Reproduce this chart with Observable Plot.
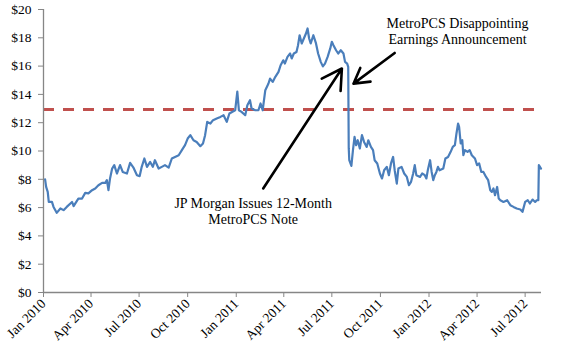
<!DOCTYPE html>
<html>
<head>
<meta charset="utf-8">
<script src="https://cdn.jsdelivr.net/npm/d3@7"></script>
<script src="https://cdn.jsdelivr.net/npm/@observablehq/plot@0.6"></script>
<style>
  html, body { margin: 0; padding: 0; background: #fff; }
  svg text { font-family: 'Liberation Serif', 'DejaVu Serif', serif; }
</style>
</head>
<body>
<div id="chart"></div>
<script>
const dates = [
"2010-01-04","2010-01-06","2010-01-09","2010-01-11","2010-01-17","2010-01-20","2010-01-26","2010-02-02","2010-02-08","2010-02-14",
"2010-02-24","2010-02-27","2010-03-08","2010-03-15","2010-03-21","2010-03-27","2010-04-03","2010-04-09","2010-04-15","2010-04-22",
"2010-04-28","2010-05-01","2010-05-04","2010-05-07","2010-05-11","2010-05-15","2010-05-20","2010-05-26","2010-05-31","2010-06-08",
"2010-06-14","2010-06-20","2010-06-27","2010-07-02","2010-07-06","2010-07-11","2010-07-16","2010-07-22","2010-07-27","2010-07-31",
"2010-08-07","2010-08-13","2010-08-19","2010-08-26","2010-09-01","2010-09-07","2010-09-14","2010-09-20","2010-09-26","2010-10-01",
"2010-10-06","2010-10-12","2010-10-18","2010-10-25","2010-10-30","2010-11-03","2010-11-07","2010-11-13","2010-11-18","2010-11-25",
"2010-12-02","2010-12-08","2010-12-14","2010-12-19","2010-12-24","2010-12-30","2011-01-03","2011-01-06","2011-01-11","2011-01-18",
"2011-01-22","2011-01-27","2011-01-30","2011-02-06","2011-02-12","2011-02-16","2011-02-20","2011-02-25","2011-03-03","2011-03-06",
"2011-03-11","2011-03-16","2011-03-22","2011-03-26","2011-03-31","2011-04-03","2011-04-08","2011-04-13","2011-04-16","2011-04-20",
"2011-04-25","2011-04-28","2011-05-01","2011-05-05","2011-05-09","2011-05-13","2011-05-16","2011-05-19","2011-05-22","2011-05-27",
"2011-06-01","2011-06-05","2011-06-10","2011-06-14","2011-06-18","2011-06-23","2011-06-28","2011-07-01","2011-07-04","2011-07-09",
"2011-07-13","2011-07-18","2011-07-23","2011-07-26","2011-07-30","2011-08-01","2011-08-02","2011-08-03","2011-08-07","2011-08-10",
"2011-08-13","2011-08-16","2011-08-19","2011-08-23","2011-08-27","2011-08-31","2011-09-05","2011-09-08","2011-09-13","2011-09-17",
"2011-09-20","2011-09-25","2011-09-30","2011-10-04","2011-10-08","2011-10-13","2011-10-17","2011-10-21","2011-10-25","2011-10-28",
"2011-11-01","2011-11-04","2011-11-10","2011-11-15","2011-11-20","2011-11-24","2011-11-28","2011-12-02","2011-12-05","2011-12-08",
"2011-12-15","2011-12-19","2011-12-24","2011-12-27","2011-12-30","2012-01-03","2012-01-06","2012-01-09","2012-01-12","2012-01-15",
"2012-01-18","2012-01-21","2012-01-28","2012-02-01","2012-02-06","2012-02-11","2012-02-15","2012-02-19","2012-02-22","2012-02-25",
"2012-02-27","2012-03-01","2012-03-04","2012-03-06","2012-03-09","2012-03-14","2012-03-18","2012-03-22","2012-03-28","2012-04-01",
"2012-04-05","2012-04-09","2012-04-13","2012-04-18","2012-04-22","2012-04-26","2012-04-29","2012-05-02","2012-05-05","2012-05-09",
"2012-05-12","2012-05-15","2012-05-21","2012-05-28","2012-06-03","2012-06-09","2012-06-15","2012-06-22","2012-06-26","2012-07-01",
"2012-07-06","2012-07-10","2012-07-15","2012-07-20","2012-07-23","2012-07-26","2012-07-27","2012-07-31"
];
const prices = [
7.99,7.46,7.11,6.40,6.40,6.05,5.63,5.94,5.82,6.05,
6.40,6.10,6.64,6.64,7.04,7.00,7.23,7.35,7.58,7.75,
7.75,7.94,7.23,8.06,8.76,9.00,8.41,9.00,8.52,8.41,
9.16,8.85,8.29,8.22,8.88,9.47,8.88,9.23,8.88,9.35,
8.76,8.88,9.00,8.83,9.47,9.58,9.70,10.06,10.41,10.88,
11.12,10.76,10.64,10.34,10.53,11.12,12.06,11.94,12.18,12.30,
12.41,12.53,12.06,12.65,12.76,12.88,14.20,12.88,12.76,12.53,
13.24,13.59,13.00,12.88,12.88,13.36,12.88,14.30,14.77,15.12,
14.88,15.24,15.59,16.06,16.41,16.18,16.65,16.89,16.54,16.89,
17.00,17.48,18.18,17.60,17.95,18.30,18.66,17.95,17.60,18.18,
17.60,16.89,16.30,15.98,16.18,16.65,17.25,17.72,17.48,17.12,
16.89,17.12,16.89,16.30,16.18,15.94,10.20,9.35,8.95,10.06,
11.00,10.41,10.76,10.18,11.12,10.64,10.29,10.76,10.29,10.06,
9.35,9.12,8.41,8.06,8.64,8.88,8.29,9.12,9.58,8.64,
7.70,8.76,8.88,8.41,8.17,7.58,7.82,8.41,9.00,8.29,
8.17,8.41,8.29,8.06,8.70,9.35,8.52,7.94,8.29,8.52,
8.88,8.64,8.76,9.47,9.58,9.94,10.29,10.41,11.24,11.94,
11.70,10.53,10.76,9.70,10.06,9.94,10.06,9.70,9.47,9.00,
9.12,8.52,8.52,8.17,7.94,7.23,7.11,7.35,6.88,7.46,
6.64,6.52,6.40,6.52,6.17,6.05,5.94,5.87,5.70,6.40,
6.52,6.29,6.57,6.40,6.52,6.52,9.00,8.76
];
const referencePrice = [12.93];
const yTicks = [0, 2, 4, 6, 8, 10, 12, 14, 16, 18, 20];
const xTickDates = ["2010-01-01","2010-04-01","2010-07-01","2010-10-01","2011-01-01","2011-04-01","2011-07-01","2011-10-01","2012-01-01","2012-04-01","2012-07-01"];
const xDomain = ["2010-01-01", "2012-08-01"];

// annotations (in data space)
const labelTexts = ["MetroPCS Disappointing\nEarnings Announcement", "JP Morgan Issues 12-Month\nMetroPCS Note"];
const labelDates = ["2012-02-24", "2011-02-02"];
const labelValues = [18.47, 5.75];
const arrowStartDates = ["2011-10-28", "2011-02-21"];
const arrowStartValues = [16.93, 7.35];
const arrowEndDates = ["2011-08-11", "2011-07-20"];
const arrowEndValues = [14.76, 15.83];

const parse = d3.utcParse("%Y-%m-%d");
const series = dates.map((d, i) => ({date: parse(d), price: prices[i]}));
const labels = labelTexts.map((t, i) => ({text: t, date: parse(labelDates[i]), value: labelValues[i]}));
const arrows = arrowStartDates.map((d, i) => ({
  x1: parse(d), y1: arrowStartValues[i], x2: parse(arrowEndDates[i]), y2: arrowEndValues[i]
}));
const axisColor = "#868686";
const serif = "'Liberation Serif', 'DejaVu Serif', serif";

const chart = Plot.plot({
  width: 561,
  height: 352,
  marginLeft: 43,
  marginRight: 20,
  marginTop: 9,
  marginBottom: 60,
  style: {fontFamily: serif, fontSize: "13px", color: "#000", background: "#fff"},
  x: {type: "utc", domain: xDomain.map(parse)},
  y: {domain: [0, 20]},
  marks: [
    Plot.ruleY(referencePrice, {stroke: "#C0504D", strokeWidth: 3, strokeDasharray: "11,9"}),
    Plot.line(series, {x: "date", y: "price", stroke: "#4A7EBB", strokeWidth: 2.2, strokeLinejoin: "round"}),
    Plot.ruleX([parse(xDomain[0])], {stroke: axisColor, strokeWidth: 1.3}),
    Plot.ruleY([0], {stroke: axisColor, strokeWidth: 1.3}),
    Plot.axisY({ticks: yTicks, tickFormat: d => "$" + d, tickSize: 5, tickPadding: 7, stroke: axisColor, fill: "#000", fontSize: 13.5, fontFamily: serif, label: null}),
    Plot.axisX({ticks: xTickDates.map(parse), tickFormat: d3.utcFormat("%b %Y"), tickSize: 5, tickPadding: 4, tickRotate: -45, stroke: axisColor, fill: "#000", fontSize: 13.5, fontFamily: serif, label: null}),
    Plot.arrow(arrows, {x1: "x1", y1: "y1", x2: "x2", y2: "y2", stroke: "#000", strokeWidth: 2.6, headLength: 13, headAngle: 60}),
    Plot.text(labels, {x: "date", y: "value", text: "text", fontSize: 14, fontFamily: serif, fill: "#000", textAnchor: "middle", lineAnchor: "middle", lineHeight: 1.15})
  ]
});
document.getElementById("chart").appendChild(chart);
</script>
</body>
</html>
